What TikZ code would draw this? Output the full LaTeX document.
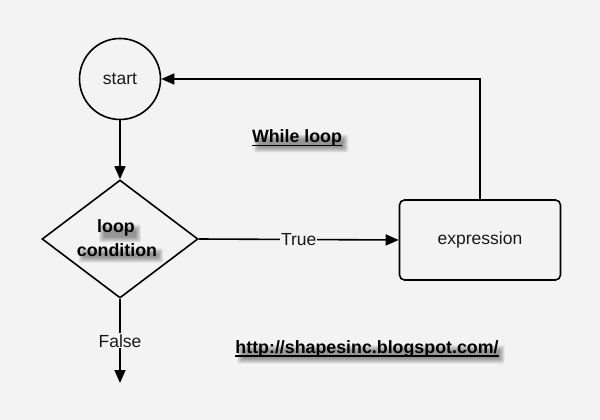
\documentclass[tikz,border=0pt]{standalone}
\usepackage{fontspec}
\setmainfont{Liberation Sans}
\usetikzlibrary{arrows.meta,shapes.geometric,calc}
\definecolor{bg}{RGB}{243,243,243}
\newcommand\myul[1]{\setbox0\hbox{#1}\rlap{\rule[-3.5pt]{\wd0}{1.6pt}}\box0}
\pgfdeclarelayer{back}
\pgfsetlayers{back,main}
\newcommand\softshadow[1]{%
  \foreach \e in {-2,-1,0,1,2,3} {
    \fill[black, opacity=0.075, rounded corners=2pt]
      ($(#1.south west)+(4+\e,4-\e)$) rectangle ($(#1.north east)+(4-\e,7+\e)$);
  }%
}
\begin{document}
\begin{tikzpicture}[x=1pt,y=-1pt,
  line/.style={line width=1.6pt, draw=black},
  arr/.style={line, -{Triangle[length=13pt,width=11pt]}},
  lbl/.style={font=\fontsize{17.5}{21}\selectfont, text=black!90},
  btxt/.style={font=\fontsize{17.8}{22}\selectfont\bfseries, inner sep=0pt, text=black},
]
\useasboundingbox (0,0) rectangle (600,420);

\node[line, circle, minimum size=81pt, inner sep=0pt, lbl] (start) at (120,79) {start};
\node[line, diamond, minimum width=156pt, minimum height=118pt, inner sep=0pt, aspect=1.32] (cond) at (120,239) {};
\node[btxt] (looptxt) at (116,228) {loop};
\node[btxt] (condtxt) at (117,250) {condition};
\node[line, rounded corners=5pt, minimum width=161pt, minimum height=80pt, lbl] (expr) at (480,240) {expression};

\node[btxt] (title) at (297,138) {\myul{While loop}};
\node[btxt] (url) at (367,349) {\myul{http://shapesinc.blogspot.com/}};

\coordinate (end) at (120,383);

\draw[arr] (start.south) -- (cond.north);
\draw[arr] (cond.east) -- node[lbl, fill=bg, inner sep=1pt] (truelbl) {True} (expr.west);
\draw[arr] (expr.north) |- (start.east);
\draw[arr] (cond.south) -- node[lbl, fill=bg, inner sep=1pt] (falselbl) {False} (end);

\begin{pgfonlayer}{back}
  \fill[bg] (0,0) rectangle (600,420);
  \softshadow{looptxt}
  \softshadow{condtxt}
  \softshadow{title}
  \softshadow{url}
\end{pgfonlayer}
\end{tikzpicture}
\end{document}
